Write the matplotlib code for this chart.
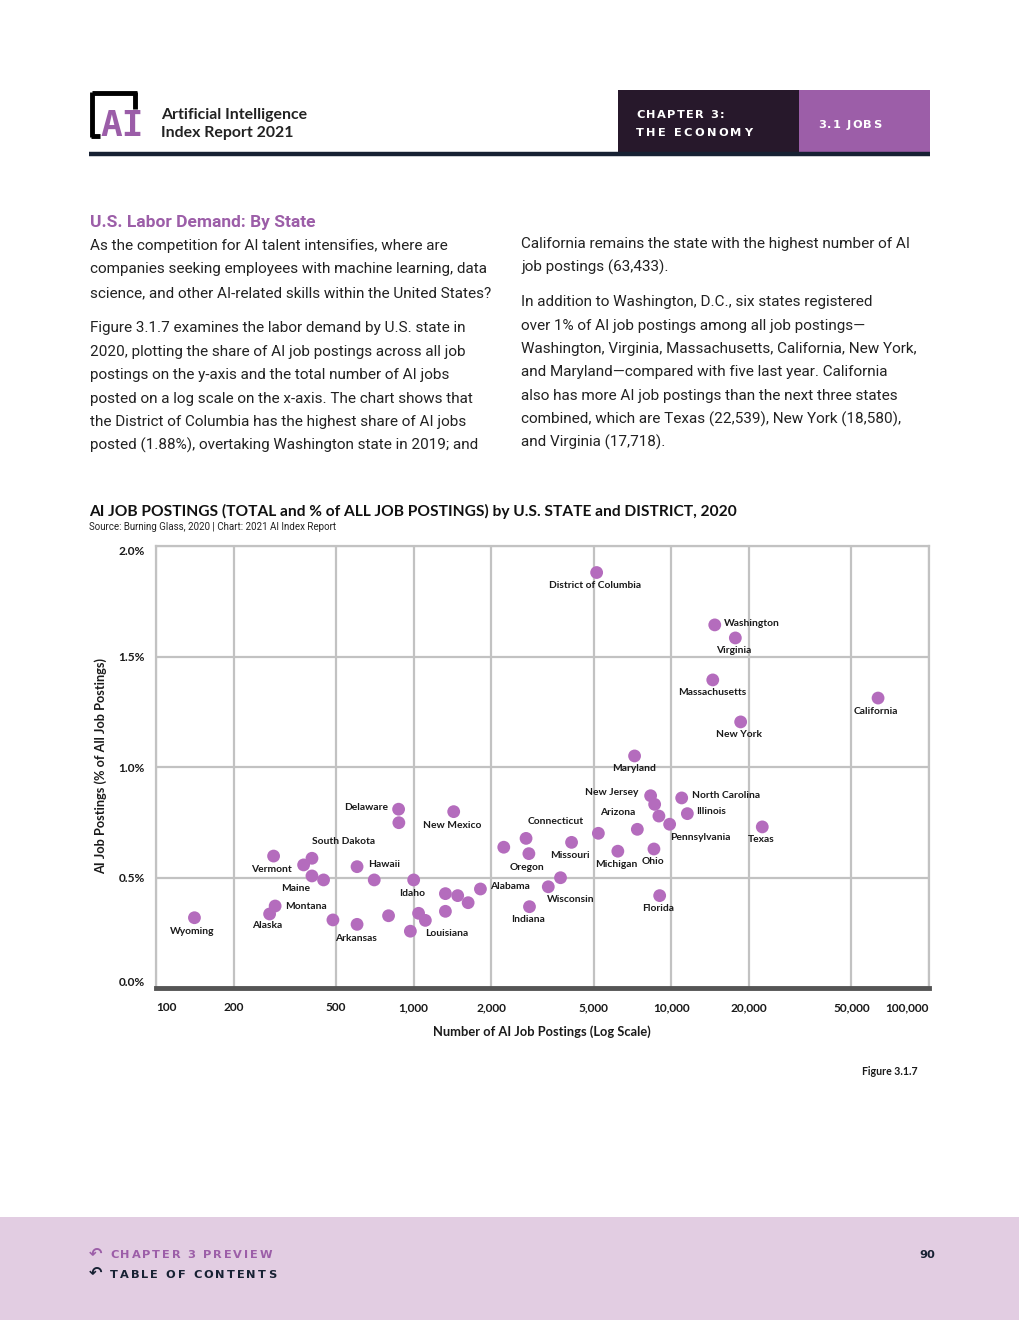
import matplotlib
matplotlib.use("Agg")
import matplotlib.pyplot as plt
from matplotlib.patches import Rectangle
from matplotlib.lines import Line2D
from matplotlib.ticker import FixedLocator, NullLocator

# ---------------- data ----------------
states = ["District of Columbia", "Washington", "Virginia", "Massachusetts", "California",
          "New York", "Maryland", "Texas", "North Carolina", "Illinois",
          "New Jersey", "", "", "Pennsylvania", "Arizona",
          "", "Missouri", "Michigan", "Ohio", "",
          "Wisconsin", "Indiana", "Florida", "Connecticut", "Oregon",
          "Delaware", "", "New Mexico", "", "Vermont",
          "", "South Dakota", "Maine", "", "Hawaii",
          "", "Idaho", "", "", "",
          "Alabama", "Montana", "Alaska", "Wyoming", "",
          "Arkansas", "", "", "Louisiana", "",
          ""]
postings = [5130, 14740, 17718, 14480, 63433,
            18580, 7200, 22539, 10970, 11540,
            8310, 8615, 8950, 9850, 7380,
            5210, 4100, 6200, 8560, 3715,
            3330, 2815, 9010, 2730, 2800,
            874, 876, 1430, 2237, 286,
            374, 403, 403, 447, 603,
            703, 1000, 1328, 1482, 1627,
            1816, 290, 276, 141, 486,
            603, 799, 1045, 1110, 1328,
            971]
share = [1.88, 1.643, 1.584, 1.394, 1.312,
         1.204, 1.050, 0.729, 0.860, 0.789,
         0.870, 0.831, 0.778, 0.741, 0.718,
         0.700, 0.659, 0.619, 0.629, 0.499,
         0.458, 0.368, 0.418, 0.677, 0.608,
         0.809, 0.748, 0.798, 0.637, 0.597,
         0.557, 0.587, 0.507, 0.489, 0.549,
         0.489, 0.489, 0.427, 0.418, 0.386,
         0.448, 0.371, 0.335, 0.318, 0.308,
         0.288, 0.327, 0.338, 0.306, 0.347,
         0.257]
x_ticks = [100, 200, 500, 1000, 2000, 5000, 10000, 20000, 50000, 100000]
x_ticklabels = ["100", "200", "500", "1,000", "2,000", "5,000", "10,000", "20,000", "50,000", "100,000"]
y_ticks = [0.0, 0.5, 1.0, 1.5, 2.0]
y_ticklabels = ["0.0%", "0.5%", "1.0%", "1.5%", "2.0%"]

# label placement (pixel offsets dx, dy (image-down positive), ha)
label_style = {
    "District of Columbia": (-2, 13, "center"), "Washington": (9, -1, "left"),
    "Virginia": (-2, 13, "center"), "Massachusetts": (-1, 13, "center"),
    "California": (-2, 13, "center"), "New York": (-2, 13, "center"),
    "Maryland": (-1, 13, "center"), "Texas": (-1, 13, "center"),
    "North Carolina": (10, -2, "left"), "Illinois": (9, -2, "left"),
    "New Jersey": (-12, -3, "right"), "Arizona": (-20, -17, "center"),
    "Connecticut": (30, -17, "center"), "Missouri": (-2, 13, "center"),
    "Michigan": (-2, 13, "center"), "Ohio": (-1, 13, "center"),
    "Pennsylvania": (0, 13, "left"), "Oregon": (-2, 14, "center"),
    "Wisconsin": (-1, 13, "left"), "Indiana": (-1, 13, "center"),
    "Florida": (-2, 13, "center"), "Alabama": (10, -2, "left"),
    "Delaware": (-10, -2, "right"), "New Mexico": (-2, 14, "center"),
    "South Dakota": (32, -17, "center"), "Vermont": (-2, 13, "center"),
    "Hawaii": (11, -2, "left"), "Maine": (-16, 13, "center"),
    "Idaho": (-2, 14, "center"), "Montana": (10, 0, "left"),
    "Alaska": (-2, 12, "center"), "Wyoming": (-2, 14, "center"),
    "Arkansas": (-1, 14, "center"), "Louisiana": (0, 13, "left"),
}

W, H = 1020, 1320
PURPLE = "#9c5ea8"
DOT = "#b46cbd"
DARK = "#27182b"
NAVY = "#172133"
TXT = "#222222"
GRID = "#c2c2c2"
LBL = "#1a1a1a"

fig = plt.figure(figsize=(W / 100, H / 100), dpi=100)
fig.patch.set_facecolor("white")
renderer = fig.canvas.get_renderer()


def fx(x):
    return x / W


def fy(y):
    return 1 - y / H


def rect(x, y, w, h, color):
    fig.add_artist(Rectangle((fx(x), fy(y + h)), w / W, h / H, transform=fig.transFigure,
                             facecolor=color, edgecolor="none", zorder=0))


def line(x0, y0, x1, y1, color, lw):
    fig.add_artist(Line2D([fx(x0), fx(x1)], [fy(y0), fy(y1)], transform=fig.transFigure,
                          color=color, lw=lw, solid_capstyle="butt"))


def spaced(x, y, s, width, ha="left", **kw):
    # letter-spaced text filling a given pixel width, starting at x (left) or ending at x (right)
    widths = []
    for ch in s:
        t = fig.text(0, 0, ch if ch != " " else "n", **kw)
        bb = t.get_window_extent(renderer)
        widths.append(bb.width * (0.45 if ch == " " else 1.0))
        t.remove()
    spacing = (width - sum(widths)) / max(len(s) - 1, 1)
    cur = x if ha == "left" else x - width
    for ch, w in zip(s, widths):
        if ch != " ":
            fig.text(fx(cur), fy(y), ch, ha="left", va="center", **kw)
        cur += w + spacing


# ---------------- header ----------------
line(92, 93, 137, 93, "black", 3.5)
line(92, 91.5, 92, 137, "black", 3.5)
line(91, 135.5, 100, 135.5, "black", 3.5)
line(135.5, 91.5, 135.5, 109, "black", 3.5)
fig.text(fx(100), fy(126), "AI", color="#9b5da8", fontsize=26, fontweight="bold",
         family="DejaVu Sans Mono", ha="left", va="center")
fig.text(fx(161), fy(115), "Artificial Intelligence", fontsize=11.4, fontweight="bold",
         family="Lato", color=TXT, va="center")
fig.text(fx(161), fy(133), "Index Report 2021", fontsize=11.4, fontweight="bold",
         family="Lato", color=TXT, va="center")
rect(618, 90, 181, 63, DARK)
rect(799, 90, 131, 63, PURPLE)
HB = dict(fontsize=8.2, fontweight="bold", family="DejaVu Sans")
spaced(636, 115, "CHAPTER 3:", 88, color="white", **HB)
spaced(636, 133, "THE ECONOMY", 116, color="white", **HB)
spaced(818, 125, "3.1 JOBS", 63, color="white", **HB)
line(89, 154, 930, 154, NAVY, 3.2)

# ---------------- intro text ----------------
BODY = ["Roboto", "DejaVu Sans"]
fig.text(fx(90), fy(222), "U.S. Labor Demand: By State", fontsize=12.5, fontweight="bold",
         family=BODY, color=PURPLE, va="center")
left_lines = [
    ("As the competition for AI talent intensifies, where are", 246),
    ("companies seeking employees with machine learning, data", 269.5),
    ("science, and other AI-related skills within the United States?", 293),
    ("Figure 3.1.7 examines the labor demand by U.S. state in", 328),
    ("2020, plotting the share of AI job postings across all job", 351.5),
    ("postings on the y-axis and the total number of AI jobs", 375),
    ("posted on a log scale on the x-axis. The chart shows that", 398.5),
    ("the District of Columbia has the highest share of AI jobs", 422),
    ("posted (1.88%), overtaking Washington state in 2019; and", 445),
]
right_lines = [
    ("California remains the state with the highest number of AI", 244),
    ("job postings (63,433).", 267),
    ("In addition to Washington, D.C., six states registered", 302),
    ("over 1% of AI job postings among all job postings\u2014", 326),
    ("Washington, Virginia, Massachusetts, California, New York,", 349),
    ("and Maryland\u2014compared with five last year. California", 372),
    ("also has more AI job postings than the next three states", 396),
    ("combined, which are Texas (22,539), New York (18,580),", 419),
    ("and Virginia (17,718).", 442),
]
for s, y in left_lines:
    fig.text(fx(90), fy(y), s, fontsize=11.0, family=BODY, color=TXT, va="center")
for s, y in right_lines:
    fig.text(fx(521), fy(y), s, fontsize=11.0, family=BODY, color=TXT, va="center")

# ---------------- chart ----------------
fig.text(fx(89), fy(511), "AI JOB POSTINGS (TOTAL and % of ALL JOB POSTINGS) by U.S. STATE and DISTRICT, 2020",
         fontsize=11.2, fontweight="bold", family="Lato", color="#111111", va="center")
fig.text(fx(89), fy(526.5), "Source: Burning Glass, 2020 | Chart: 2021 AI Index Report",
         fontsize=7, family=BODY, color=TXT, va="center")

ax = fig.add_axes([fx(156), fy(988), (929 - 156) / W, (988 - 546) / H])
ax.set_xscale("log")
ax.set_xlim(100, 100000)
ax.set_ylim(0, 2.0)
ax.scatter(postings, share, s=85, color=DOT, edgecolor="none", zorder=3, clip_on=False)

for name, xv, yv in zip(states, postings, share):
    if not name:
        continue
    dx, dy, ha = label_style[name]
    ax.annotate(name, (xv, yv), xytext=(dx, -dy), textcoords="offset pixels",
                ha=ha, va="center", fontsize=7.4, family="Lato", fontweight="bold",
                color=LBL, zorder=4)

ax.xaxis.set_major_locator(FixedLocator(x_ticks))
ax.xaxis.set_minor_locator(NullLocator())
ax.set_xticklabels(x_ticklabels)
ax.set_yticks(y_ticks)
ax.set_yticklabels(y_ticklabels)
ax.tick_params(axis="both", length=0, labelsize=8.6, labelcolor=LBL)
ax.tick_params(axis="x", pad=10)
ax.tick_params(axis="y", pad=8)
for t in ax.get_xticklabels() + ax.get_yticklabels():
    t.set_family("Lato")
    t.set_fontweight("bold")
xl = ax.get_xticklabels()
xl[0].set_ha("left")
xl[-1].set_ha("right")
yl = ax.get_yticklabels()
yl[0].set_va("bottom")
yl[-1].set_va("top")

ax.grid(True, color=GRID, lw=1.6, zorder=0)
ax.set_axisbelow(True)
for side in ["left", "right", "top"]:
    ax.spines[side].set_color(GRID)
    ax.spines[side].set_linewidth(1.6)
ax.spines["bottom"].set_color("#555555")
ax.spines["bottom"].set_linewidth(3.5)

fig.text(fx(101), fy(766), "AI Job Postings (% of All Job Postings)", rotation=90,
         fontsize=9.2, family="Lato", fontweight="bold", color=LBL,
         ha="center", va="center")
fig.text(fx(542), fy(1032), "Number of AI Job Postings (Log Scale)",
         fontsize=9.3, family="Lato", fontweight="bold", color=LBL,
         ha="center", va="center")
fig.text(fx(918), fy(1071.5), "Figure 3.1.7", fontsize=7.6, family="Lato", fontweight="bold",
         color=LBL, ha="right", va="center")

# ---------------- footer ----------------
rect(0, 1217, 1020, 103, "#e2cde2")
fig.text(fx(89), fy(1254), "\u21b6", fontsize=11.5, fontweight="bold", family="DejaVu Sans",
         color=PURPLE, ha="left", va="center")
fig.text(fx(89), fy(1273), "\u21b6", fontsize=11.5, fontweight="bold", family="DejaVu Sans",
         color=NAVY, ha="left", va="center")
FB = dict(fontsize=8.2, fontweight="bold", family="DejaVu Sans")
spaced(110, 1254.5, "CHAPTER 3 PREVIEW", 162, color=PURPLE, **FB)
spaced(110, 1274.5, "TABLE OF CONTENTS", 166, color=NAVY, **FB)
spaced(934, 1254.5, "90", 15, ha="right", color=NAVY, **FB)

fig.savefig("out.png", dpi=100)
